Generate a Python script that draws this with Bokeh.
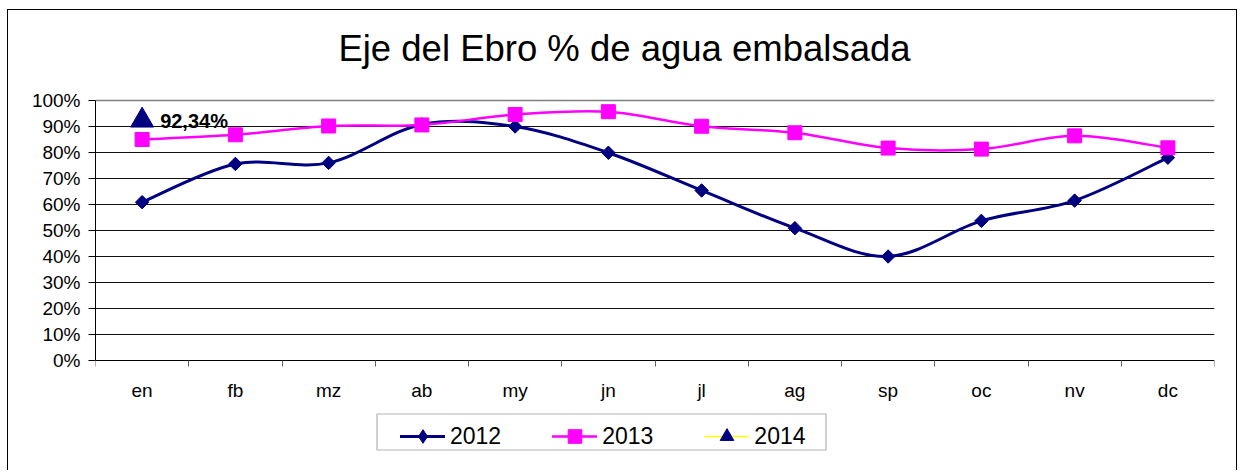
import numpy as np
from bokeh.plotting import figure
from bokeh.models import (FixedTicker, Legend, LegendItem, Range1d, Grid, Label,
                          BoxAnnotation)
from bokeh.core.properties import value
from bokeh.embed import file_html
from bokeh.resources import INLINE

# ---------------- data ----------------
months = ["en", "fb", "mz", "ab", "my", "jn", "jl", "ag", "sp", "oc", "nv", "dc"]
s2012 = [60.9, 75.6, 76.0, 90.8, 90.0, 79.9, 65.4, 50.9, 40.0, 53.7, 61.5, 78.0]
s2013 = [85.0, 86.8, 90.2, 90.6, 94.6, 95.7, 90.1, 87.6, 81.7, 81.3, 86.4, 81.8]
s2014 = [92.34]
y_ticks = list(range(0, 101, 10))
title_text = "Eje del Ebro % de agua embalsada"

FONT = "Liberation Sans"
NAVY = "#000080"
MAGENTA = "#FF00FF"
YELLOW = "#FFFF00"

# ---------------- layout (canvas pixels) ----------------
W, H = 1230, 461          # canvas, placed at page (8, 10) inside a 1px border
LEFT, RIGHT_PAD = 87, 24
PLOT_TOP, PLOT_BOTTOM = 90, 350   # canvas y of 100 % and 0 %
FRAME_BOTTOM = 455
PX_PER_UNIT = (PLOT_BOTTOM - PLOT_TOP) / 100.0
PX_PER_CAT = (W - RIGHT_PAD - LEFT) / len(months)
y_lo = -(FRAME_BOTTOM - PLOT_BOTTOM) / PX_PER_UNIT
y_hi = 100 + PLOT_TOP / PX_PER_UNIT


def cx(px):
    return (px - LEFT) / PX_PER_CAT


def cy(py):
    return (PLOT_BOTTOM - py) / PX_PER_UNIT


p = figure(width=W, height=H, output_backend="svg", toolbar_location=None,
           x_range=Range1d(0, len(months)), y_range=Range1d(y_lo, y_hi),
           min_border_left=LEFT, min_border_right=RIGHT_PAD, min_border_top=0,
           min_border_bottom=H - FRAME_BOTTOM, title=None)
p.margin = (9, 0, 0, 7)
p.styles = {"border-left": "1px solid black", "border-top": "1px solid black",
            "border-right": "1px solid black"}
p.background_fill_color = "white"
p.border_fill_color = "white"
p.outline_line_color = None

xs = [i + 0.5 for i in range(len(months))]


def smooth(xv, yv):
    n = len(xv)
    pts = list(zip(xv, yv))
    out = {k: [] for k in ["x0", "y0", "x1", "y1", "cx0", "cy0", "cx1", "cy1"]}
    for i in range(n - 1):
        p0 = pts[i - 1] if i > 0 else pts[i]
        p1 = pts[i]
        p2 = pts[i + 1]
        p3 = pts[i + 2] if i + 2 < n else pts[i + 1]
        out["x0"].append(p1[0]); out["y0"].append(p1[1])
        out["x1"].append(p2[0]); out["y1"].append(p2[1])
        out["cx0"].append(p1[0] + (p2[0] - p0[0]) / 6)
        out["cy0"].append(p1[1] + (p2[1] - p0[1]) / 6)
        out["cx1"].append(p2[0] - (p3[0] - p1[0]) / 6)
        out["cy1"].append(p2[1] - (p3[1] - p1[1]) / 6)
    return out


# axes
p.yaxis.ticker = FixedTicker(ticks=y_ticks)
p.yaxis.bounds = (0, 100)
p.yaxis.major_label_overrides = {t: f"{t}%" for t in y_ticks}
p.yaxis.major_tick_out = 7
p.yaxis.major_tick_in = 0
p.yaxis.minor_tick_line_color = None
p.yaxis.major_tick_line_color = "black"
p.yaxis.axis_line_color = "black"
p.yaxis.major_label_standoff = 8

p.xaxis.fixed_location = 0
p.xaxis.ticker = FixedTicker(ticks=xs, minor_ticks=list(range(len(months) + 1)))
p.xaxis.major_label_overrides = {x: m for x, m in zip(xs, months)}
p.xaxis.major_tick_line_color = None
p.xaxis.minor_tick_out = 6
p.xaxis.minor_tick_in = 0
p.xaxis.minor_tick_line_color = "#606060"
p.xaxis.axis_line_color = "black"
p.xaxis.major_label_standoff = 13

for ax in (p.xaxis, p.yaxis):
    ax.major_label_text_font = FONT
    ax.major_label_text_font_size = "19px"
    ax.major_label_text_color = "black"

p.xgrid.grid_line_color = None
p.ygrid.ticker = FixedTicker(ticks=y_ticks[1:-1])
p.ygrid.grid_line_color = "#111111"
p.ygrid.grid_line_width = 1
# plot-area top and right edges (grey)
p.add_layout(Grid(dimension=1, ticker=FixedTicker(ticks=[y_ticks[-1]]),
                  grid_line_color="#808080", grid_line_width=1.5))
p.add_layout(Grid(dimension=0, ticker=FixedTicker(ticks=[len(months)]),
                  bounds=(0, 100), grid_line_color="#808080", grid_line_width=1.5))

# series
sm12 = smooth(xs, s2012)
r12l = p.bezier(line_color=NAVY, line_width=3, line_cap="round", **sm12)
r12k = p.scatter(xs, s2012, marker="diamond", size=12,
                 fill_color=NAVY, line_color=NAVY)   # legend key (covered)
r12m = p.scatter(xs, s2012, marker="square", angle=np.pi / 4, size=9.5,
                 fill_color=NAVY, line_color=NAVY)

sm13 = smooth(xs, s2013)
r13l = p.bezier(line_color=MAGENTA, line_width=2.5, line_cap="round", **sm13)
r13m = p.scatter(xs, s2013, marker="square", size=14,
                 fill_color=MAGENTA, line_color=MAGENTA)

x14 = xs[:len(s2014)]
r14l = p.line(x14, s2014, line_color=YELLOW, line_width=1.5)
r14m = p.scatter(x14, s2014, marker="triangle", size=23,
                 fill_color=NAVY, line_color=NAVY)
p.text(x=x14, y=s2014,
       text=[f"{v:.2f}".replace(".", ",") + "%" for v in s2014],
       x_offset=18, y_offset=1, text_baseline="middle", text_align="left",
       text_font=value(FONT), text_font_style="bold", text_font_size="20px",
       text_color="black")

# title (centred over the whole chart box)
p.add_layout(Label(x=cx(616), y=cy(38), text=title_text,
                   text_align="center", text_baseline="alphabetic",
                   text_font=FONT, text_font_size="36.5px", text_color="black"))

# legend frame
p.add_layout(BoxAnnotation(left=cx(368.5), right=cx(817.5),
                           top=cy(403.5), bottom=cy(439.5),
                           fill_color="white", fill_alpha=1,
                           line_color="#000000", line_width=1.2, level="overlay"))

# legend
legend = Legend(items=[
    LegendItem(label="2012", renderers=[r12l, r12k]),
    LegendItem(label="2013", renderers=[r13l, r13m]),
    LegendItem(label="2014", renderers=[r14l, r14m]),
], orientation="horizontal", location=(305, 12), glyph_width=45,
    glyph_height=34, label_height=34, label_standoff=5, spacing=51,
    padding=5, margin=0,
    label_text_font=FONT, label_text_font_size="23px",
    label_text_color="black",
    border_line_color=None, background_fill_alpha=0)
p.add_layout(legend, "center")

open("out.html", "w").write(file_html(p, INLINE))
